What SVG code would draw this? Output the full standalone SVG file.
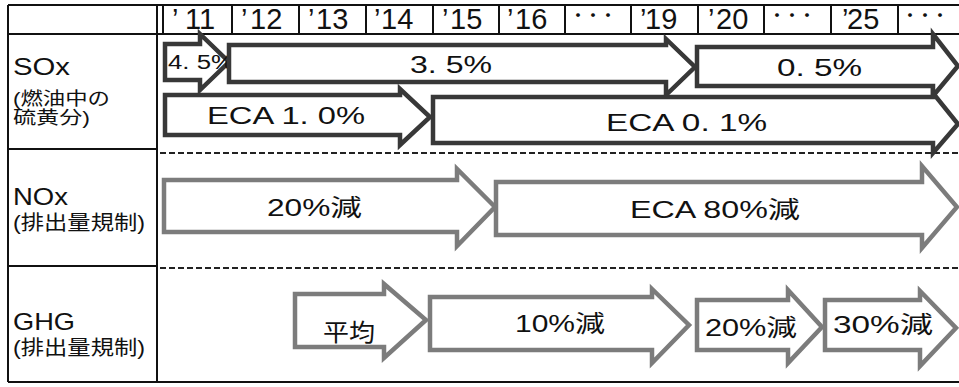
<svg xmlns="http://www.w3.org/2000/svg" width="959" height="387" viewBox="0 0 959 387">
<style>
  text { font-family: "Liberation Sans", "Noto Sans CJK JP", sans-serif; fill: #111; }
  .hd { font-size: 29px; }
  .dots { font-family: "Noto Sans CJK JP", sans-serif; font-size: 15px; font-weight: bold; }
  .frame { fill: none; stroke: #111; stroke-width: 2; }
  .dash { fill: none; stroke: #222; stroke-width: 2; stroke-dasharray: 6 3; }
  .adark { fill: #fff; stroke: #383838; stroke-width: 4.5; stroke-linejoin: miter; }
  .agray { fill: #fff; stroke: #7c7c7c; stroke-width: 4.5; stroke-linejoin: miter; }
  .lbl { font-size: 24px; }
  .sub { font-size: 20px; }
  .sub2 { font-size: 18px; }
  .at { font-size: 24px; }
</style>
<rect x="0" y="0" width="959" height="387" fill="#fff"/>

<g id="grid">
  <line class="frame" x1="8" y1="5" x2="959" y2="5"/>
  <line class="frame" x1="8" y1="34" x2="959" y2="34"/>
  <line class="frame" x1="8" y1="5" x2="8" y2="382"/>
  <line class="frame" x1="157" y1="5" x2="157" y2="382"/>
  <line class="frame" x1="8" y1="149" x2="157" y2="149"/>
  <line class="frame" x1="8" y1="266" x2="157" y2="266"/>
  <line class="frame" x1="8" y1="382" x2="959" y2="382"/>
  <line class="dash" x1="160" y1="153" x2="959" y2="153"/>
  <line class="dash" x1="160" y1="268" x2="959" y2="268"/>
</g>

<g id="header">
  <g class="frame">
    <line x1="163" y1="5" x2="163" y2="34"/>
    <line x1="232" y1="5" x2="232" y2="34"/>
    <line x1="299" y1="5" x2="299" y2="34"/>
    <line x1="366" y1="5" x2="366" y2="34"/>
    <line x1="433" y1="5" x2="433" y2="34"/>
    <line x1="499" y1="5" x2="499" y2="34"/>
    <line x1="565" y1="5" x2="565" y2="34"/>
    <line x1="631" y1="5" x2="631" y2="34"/>
    <line x1="698" y1="5" x2="698" y2="34"/>
    <line x1="764" y1="5" x2="764" y2="34"/>
    <line x1="831" y1="5" x2="831" y2="34"/>
    <line x1="898" y1="5" x2="898" y2="34"/>
  </g>
  <g id="y11"><text class="hd" x="172" y="29">’<tspan x="185">11</tspan></text></g>
  <g id="y12"><text class="hd" x="241" y="29">’<tspan x="250">12</tspan></text></g>
  <g id="y13"><text class="hd" x="308" y="29">’<tspan x="316">13</tspan></text></g>
  <g id="y14"><text class="hd" x="374" y="29">’<tspan x="381">14</tspan></text></g>
  <g id="y15"><text class="hd" x="442" y="29">’<tspan x="450">15</tspan></text></g>
  <g id="y16"><text class="hd" x="507" y="29">’<tspan x="515">16</tspan></text></g>
  <g id="gap1"><text class="dots" x="570.5" y="21">・・・</text></g>
  <g id="y19"><text class="hd" x="640" y="29">’<tspan x="645">19</tspan></text></g>
  <g id="y20"><text class="hd" x="708" y="29">’<tspan x="716">20</tspan></text></g>
  <g id="gap2"><text class="dots" x="769.5" y="21">・・・</text></g>
  <g id="y25"><text class="hd" x="842" y="29">’<tspan x="847">25</tspan></text></g>
  <g id="gap3"><text class="dots" x="902.5" y="21">・・・</text></g>
</g>

<g id="label-sox">
  <text class="lbl" x="13" y="75" textLength="57" lengthAdjust="spacingAndGlyphs">SOx</text>
  <text class="sub2" x="13" y="105" textLength="97" lengthAdjust="spacingAndGlyphs">(燃油中の</text>
  <text class="sub2" x="13" y="124" textLength="77" lengthAdjust="spacingAndGlyphs">硫黄分)</text>
</g>
<g id="label-nox">
  <text class="lbl" x="13" y="205" textLength="55" lengthAdjust="spacingAndGlyphs">NOx</text>
  <text class="sub" x="13" y="230" textLength="132" lengthAdjust="spacingAndGlyphs">(排出量規制)</text>
</g>
<g id="label-ghg">
  <text class="lbl" x="13" y="330" textLength="62" lengthAdjust="spacingAndGlyphs">GHG</text>
  <text class="sub" x="13" y="355" textLength="132" lengthAdjust="spacingAndGlyphs">(排出量規制)</text>
</g>

<g id="sox-45">
  <polygon class="adark" points="165,44 200,44 200,34 229,62 200,90 200,80 165,80"/>
  <text x="168" y="69" font-size="20" textLength="66" lengthAdjust="spacingAndGlyphs">4. 5%</text>
</g>
<g id="sox-35">
  <polygon class="adark" points="229,45 666,45 666,39 695,67 666,95 666,82 229,82"/>
  <text class="at" x="410" y="73" textLength="82" lengthAdjust="spacingAndGlyphs">3. 5%</text>
</g>
<g id="sox-05">
  <polygon class="adark" points="697,47 933,47 933,34 958,66 933,96 933,86 697,86"/>
  <text class="at" x="777" y="76" textLength="85" lengthAdjust="spacingAndGlyphs">0. 5%</text>
</g>
<g id="sox-eca10">
  <polygon class="adark" points="165,95 400,95 400,89 430,117 400,145 400,135 165,135"/>
  <text class="at" x="207" y="124" textLength="158" lengthAdjust="spacingAndGlyphs">ECA 1. 0%</text>
</g>
<g id="sox-eca01">
  <polygon class="adark" points="433,97 933,97 933,93 958,124 933,153 933,143 433,143"/>
  <text class="at" x="606" y="131" textLength="161" lengthAdjust="spacingAndGlyphs">ECA 0. 1%</text>
</g>

<g id="nox-20">
  <polygon class="agray" points="164,180 457,180 457,169 495,207 457,246 457,232 164,232"/>
  <text class="at" x="267" y="216" textLength="95" lengthAdjust="spacingAndGlyphs">20%減</text>
</g>
<g id="nox-eca80">
  <polygon class="agray" points="496,182 922,182 922,166 957,207 922,248 922,235 496,235"/>
  <text class="at" x="630" y="218" textLength="170" lengthAdjust="spacingAndGlyphs">ECA 80%減</text>
</g>

<g id="ghg-avg">
  <polygon class="agray" points="295,294 384,294 384,284 426,320 384,358 384,347 295,347"/>
  <text class="at" x="323" y="341" textLength="52" lengthAdjust="spacingAndGlyphs">平均</text>
</g>
<g id="ghg-10">
  <polygon class="agray" points="430,297 652,297 652,289 689,325 652,363 652,350 430,350"/>
  <text class="at" x="515" y="332" textLength="90" lengthAdjust="spacingAndGlyphs">10%減</text>
</g>
<g id="ghg-20">
  <polygon class="agray" points="697,300 788,300 788,290 822,327 788,363 788,350 697,350"/>
  <text class="at" x="705" y="336" textLength="92" lengthAdjust="spacingAndGlyphs">20%減</text>
</g>
<g id="ghg-30">
  <polygon class="agray" points="825,300 920,300 920,291 956,328 920,366 920,350 825,350"/>
  <text class="at" x="833" y="333" textLength="100" lengthAdjust="spacingAndGlyphs">30%減</text>
</g>
</svg>
